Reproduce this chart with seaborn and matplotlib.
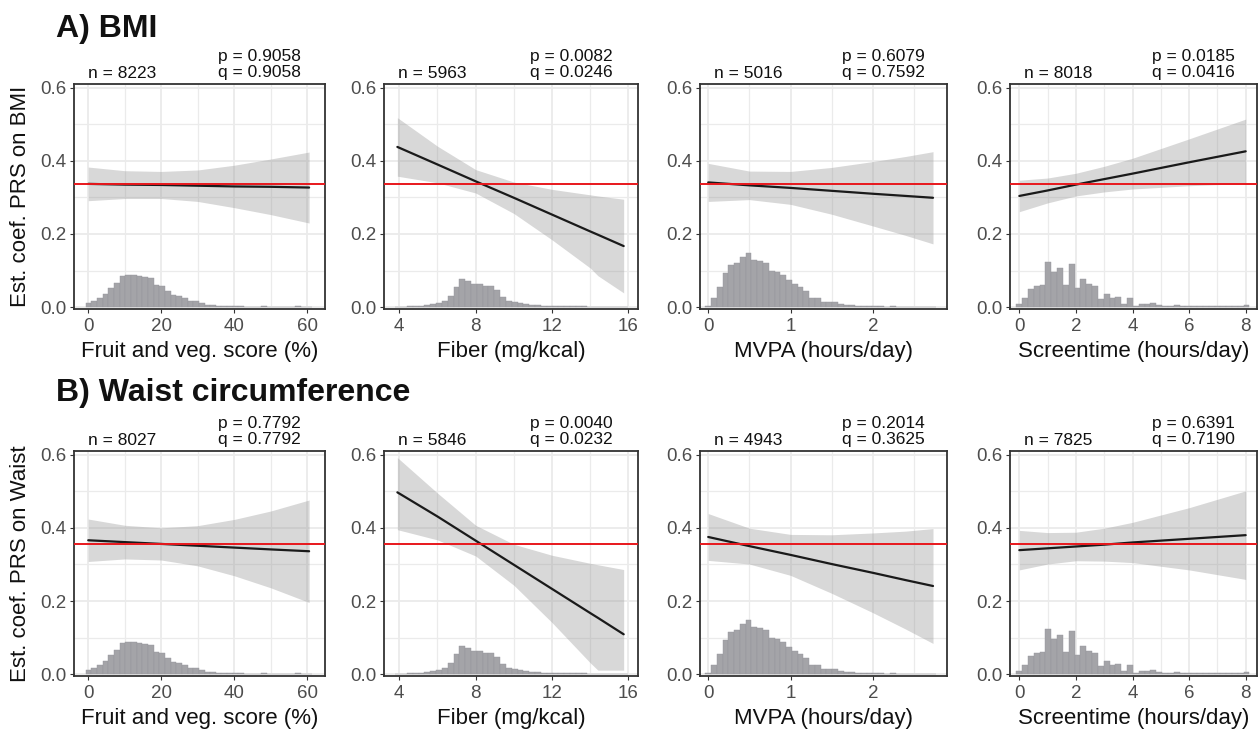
import numpy as np
import pandas as pd
import matplotlib
matplotlib.use('Agg')
import matplotlib.pyplot as plt
import seaborn as sns

# ── values ───────────────────────────────────────────────────
x_labels = ['Fruit and veg. score (%)', 'Fiber (mg/kcal)',
            'MVPA (hours/day)', 'Screentime (hours/day)']
x_ticks = [[0, 20, 40, 60], [4, 8, 12, 16], [0, 1, 2], [0, 2, 4, 6, 8]]
x_minor = [[10, 30, 50], [6, 10, 14], [0.5, 1.5, 2.5], [1, 3, 5, 7]]
x_lims = [(-3.9, 64.85), (3.2, 16.5), (-0.10, 2.90), (-0.33, 8.4)]

row_titles = ['A) BMI', 'B) Waist circumference']
y_labels = ['Est. coef. PRS on BMI', 'Est. coef. PRS on Waist']
main_effect = [0.336, 0.356]

bmi_n = [8223, 5963, 5016, 8018]
bmi_p = ['0.9058', '0.0082', '0.6079', '0.0185']
bmi_q = ['0.9058', '0.0246', '0.7592', '0.0416']
waist_n = [8027, 5846, 4943, 7825]
waist_p = ['0.7792', '0.0040', '0.2014', '0.6391']
waist_q = ['0.7792', '0.0232', '0.3625', '0.7190']

# interaction fit: x points, fitted line and 95% band
fruit_x = [0, 10, 20, 30, 40, 50, 60.5]
fiber_x = [3.9, 6, 8, 10, 12, 14, 14.4, 15.75]
mvpa_x = [0, 0.5, 1, 1.5, 2, 2.4, 2.73]
screen_x = [0, 1, 2, 3, 4, 6, 8]

bmi_fruit_fit = [0.337, 0.335, 0.334, 0.332, 0.330, 0.329, 0.327]
bmi_fruit_lo = [0.291, 0.297, 0.297, 0.289, 0.272, 0.253, 0.230]
bmi_fruit_hi = [0.383, 0.373, 0.371, 0.375, 0.388, 0.405, 0.424]
bmi_fiber_fit = [0.438, 0.390, 0.344, 0.299, 0.253, 0.207, 0.198, 0.167]
bmi_fiber_lo = [0.358, 0.340, 0.312, 0.256, 0.184, 0.107, 0.086, 0.039]
bmi_fiber_hi = [0.518, 0.440, 0.376, 0.342, 0.322, 0.307, 0.304, 0.295]
bmi_mvpa_fit = [0.341, 0.333, 0.326, 0.318, 0.310, 0.304, 0.299]
bmi_mvpa_lo = [0.289, 0.294, 0.281, 0.254, 0.222, 0.196, 0.173]
bmi_mvpa_hi = [0.393, 0.372, 0.371, 0.382, 0.398, 0.412, 0.425]
bmi_screen_fit = [0.304, 0.319, 0.335, 0.350, 0.365, 0.396, 0.426]
bmi_screen_lo = [0.261, 0.285, 0.304, 0.315, 0.323, 0.332, 0.338]
bmi_screen_hi = [0.347, 0.353, 0.366, 0.385, 0.407, 0.460, 0.514]

waist_fruit_fit = [0.366, 0.361, 0.356, 0.351, 0.346, 0.341, 0.336]
waist_fruit_lo = [0.308, 0.315, 0.312, 0.296, 0.269, 0.236, 0.196]
waist_fruit_hi = [0.424, 0.407, 0.400, 0.406, 0.423, 0.446, 0.476]
waist_fiber_fit = [0.497, 0.431, 0.365, 0.299, 0.233, 0.167, 0.154, 0.109]
waist_fiber_lo = [0.395, 0.367, 0.323, 0.243, 0.141, 0.031, 0.011, 0.011]
waist_fiber_hi = [0.592, 0.495, 0.407, 0.355, 0.325, 0.303, 0.299, 0.286]
waist_mvpa_fit = [0.375, 0.350, 0.326, 0.301, 0.277, 0.257, 0.241]
waist_mvpa_lo = [0.311, 0.301, 0.270, 0.221, 0.168, 0.123, 0.084]
waist_mvpa_hi = [0.439, 0.399, 0.382, 0.381, 0.386, 0.391, 0.398]
waist_screen_fit = [0.339, 0.344, 0.349, 0.354, 0.360, 0.370, 0.380]
waist_screen_lo = [0.285, 0.301, 0.310, 0.309, 0.305, 0.285, 0.259]
waist_screen_hi = [0.393, 0.387, 0.388, 0.399, 0.415, 0.455, 0.501]

# scaled exposure histograms (40 bins each): first edge, bin width, heights
fruit_bin0, fruit_binw = -0.7, 1.55
fruit_hist = [0.012, 0.016, 0.025, 0.036, 0.053, 0.066, 0.084, 0.087, 0.087, 0.086,
              0.083, 0.079, 0.060, 0.057, 0.043, 0.034, 0.031, 0.025, 0.018, 0.016,
              0.011, 0.007, 0.005, 0.004, 0.003, 0.002, 0.002, 0.002, 0.001, 0.001,
              0.001, 0.002, 0.001, 0.001, 0.001, 0.001, 0.001, 0.002, 0.001, 0.001]
fiber_bin0, fiber_binw = 3.79, 0.305
fiber_hist = [0.001, 0.001, 0.002, 0.003, 0.004, 0.006, 0.009, 0.012, 0.018, 0.030,
              0.055, 0.076, 0.071, 0.063, 0.062, 0.059, 0.057, 0.047, 0.028, 0.016,
              0.014, 0.011, 0.010, 0.006, 0.005, 0.004, 0.004, 0.003, 0.003, 0.003,
              0.002, 0.002, 0.002, 0.001, 0.001, 0.001, 0.001, 0.001, 0.001, 0.001]
mvpa_bin0, mvpa_binw = -0.035, 0.07
mvpa_hist = [0.004, 0.025, 0.056, 0.093, 0.115, 0.122, 0.138, 0.149, 0.129, 0.127,
             0.122, 0.099, 0.097, 0.087, 0.075, 0.063, 0.054, 0.045, 0.026, 0.026,
             0.015, 0.013, 0.015, 0.010, 0.006, 0.005, 0.004, 0.003, 0.003, 0.002,
             0.002, 0.001, 0.002, 0.001, 0.001, 0.001, 0.001, 0.001, 0.001, 0.001]
screen_bin0, screen_binw = -0.106, 0.206
screen_hist = [0.008, 0.025, 0.051, 0.058, 0.060, 0.124, 0.095, 0.106, 0.060, 0.119,
               0.052, 0.078, 0.063, 0.057, 0.022, 0.037, 0.024, 0.028, 0.008, 0.024,
               0.004, 0.008, 0.008, 0.011, 0.005, 0.004, 0.003, 0.005, 0.004, 0.004,
               0.003, 0.003, 0.002, 0.002, 0.003, 0.002, 0.002, 0.002, 0.002, 0.006]

# ── assemble per-panel lists ─────────────────────────────────
band_x = [fruit_x, fiber_x, mvpa_x, screen_x]
fits = [[bmi_fruit_fit, bmi_fiber_fit, bmi_mvpa_fit, bmi_screen_fit],
        [waist_fruit_fit, waist_fiber_fit, waist_mvpa_fit, waist_screen_fit]]
lows = [[bmi_fruit_lo, bmi_fiber_lo, bmi_mvpa_lo, bmi_screen_lo],
        [waist_fruit_lo, waist_fiber_lo, waist_mvpa_lo, waist_screen_lo]]
highs = [[bmi_fruit_hi, bmi_fiber_hi, bmi_mvpa_hi, bmi_screen_hi],
         [waist_fruit_hi, waist_fiber_hi, waist_mvpa_hi, waist_screen_hi]]
hists = [(fruit_bin0, fruit_binw, fruit_hist), (fiber_bin0, fiber_binw, fiber_hist),
         (mvpa_bin0, mvpa_binw, mvpa_hist), (screen_bin0, screen_binw, screen_hist)]
n_vals = [bmi_n, waist_n]
p_vals = [bmi_p, waist_p]
q_vals = [bmi_q, waist_q]

# ── style ────────────────────────────────────────────────────
sns.set_theme(style='white')
plt.rcParams['font.family'] = ['Liberation Sans', 'DejaVu Sans']

W, H = 1259, 730
fig = plt.figure(figsize=(W / 100, H / 100), dpi=100)

col_px = [(74, 325), (384, 638), (700, 947), (1010, 1257)]
row_px = [(84, 309), (451, 676)]
title_base = [37, 401]

for r in range(2):
    top, bot = row_px[r]
    fig.text(56 / W, 1 - title_base[r] / H, row_titles[r], fontsize=23,
             fontweight='bold', va='baseline', ha='left', color='#111111')
    fig.text(21 / W, 1 - (top + bot) / 2 / H, y_labels[r], fontsize=16,
             rotation=90, va='center', ha='center', color='#111111')
    for c in range(4):
        left, right = col_px[c]
        ax = fig.add_axes([left / W, 1 - bot / H, (right - left) / W, (bot - top) / H])
        ax.set_facecolor('white')

        # grid
        for gy in [0.1, 0.3, 0.5]:
            ax.axhline(gy, color='#EBEBEB', lw=0.9, zorder=0)
        for gy in [0, 0.2, 0.4, 0.6]:
            ax.axhline(gy, color='#EBEBEB', lw=1.3, zorder=0)
        for gx in x_minor[c]:
            ax.axvline(gx, color='#EBEBEB', lw=0.9, zorder=0)
        for gx in x_ticks[c]:
            ax.axvline(gx, color='#EBEBEB', lw=1.3, zorder=0)

        # histogram of the exposure
        b0, bw, heights = hists[c]
        edges = b0 + bw * np.arange(len(heights) + 1)
        hist_df = pd.DataFrame({'x': (edges[:-1] + edges[1:]) / 2, 'w': heights})
        sns.histplot(data=hist_df, x='x', weights='w', bins=edges.tolist(), ax=ax,
                     color='#a4a4a8', alpha=1, edgecolor='#95959a',
                     linewidth=0.3, zorder=1)

        # fitted interaction line with band
        ax.fill_between(band_x[c], lows[r][c], highs[r][c], color='#999999',
                        alpha=0.38, lw=0, zorder=2)
        sns.lineplot(x=band_x[c], y=fits[r][c], ax=ax, color='#1a1a1a',
                     lw=1.6, zorder=3)
        ax.axhline(main_effect[r], color='#e8171c', lw=1.4, zorder=4)

        ax.set_xlim(*x_lims[c])
        ax.set_ylim(-0.005, 0.61)
        ax.set_xticks(x_ticks[c])
        ax.set_yticks([0, 0.2, 0.4, 0.6])
        ax.set_yticklabels(['0.0', '0.2', '0.4', '0.6'])
        ax.set_xlabel(x_labels[c], fontsize=16, labelpad=4.5, color='#111111')
        ax.set_ylabel('')
        ax.tick_params(axis='both', which='major', direction='out', length=3,
                       width=0.8, color='#333333', labelsize=13.5,
                       labelcolor='#4D4D4D', pad=2.5, bottom=True, left=True)
        ax.tick_params(axis='x', pad=3.5)
        for sp in ax.spines.values():
            sp.set_color('#333333')
            sp.set_linewidth(1.3)
            sp.set_visible(True)

        ax.annotate(f'n = {n_vals[r][c]}', xy=(0.055, 1), xycoords='axes fraction',
                    xytext=(0, 4.3), textcoords='offset points',
                    ha='left', va='baseline', fontsize=12.5, color='#111111')
        ax.annotate(f'q = {q_vals[r][c]}', xy=(0.575, 1), xycoords='axes fraction',
                    xytext=(0, 5.3), textcoords='offset points',
                    ha='left', va='baseline', fontsize=12.5, color='#111111')
        ax.annotate(f'p = {p_vals[r][c]}', xy=(0.575, 1), xycoords='axes fraction',
                    xytext=(0, 16.6), textcoords='offset points',
                    ha='left', va='baseline', fontsize=12.5, color='#111111')

fig.savefig('out.png', dpi=100)
